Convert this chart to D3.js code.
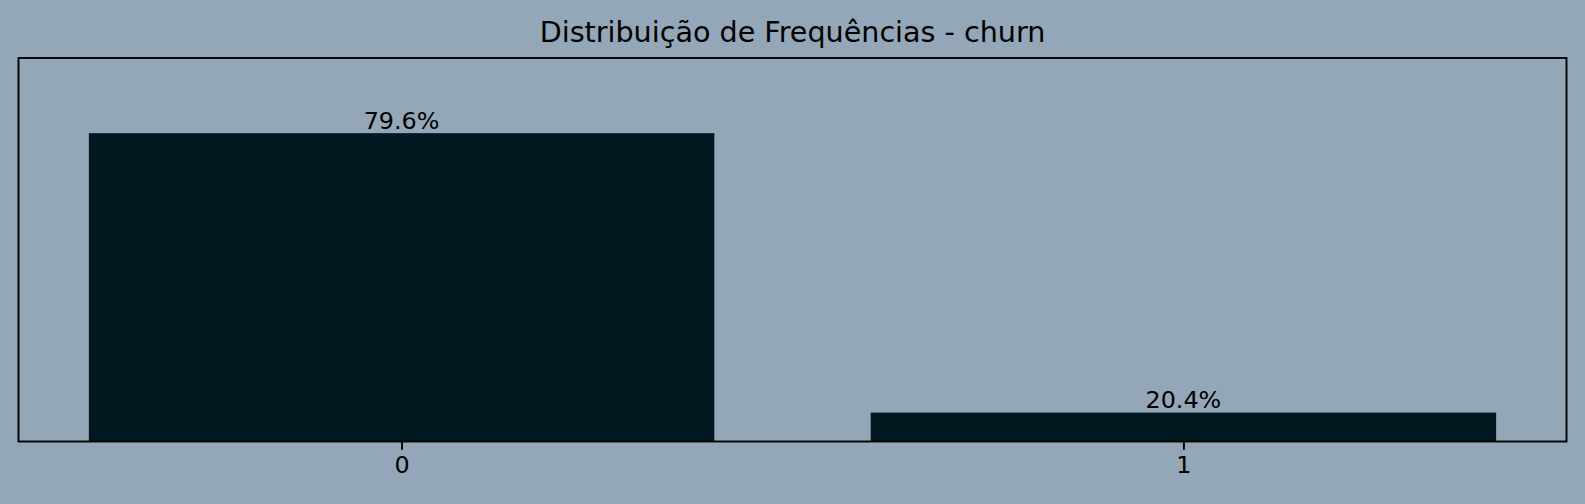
<!DOCTYPE html>
<html>
<head>
<meta charset="utf-8">
<script src="https://cdn.jsdelivr.net/npm/d3@7"></script>
<style>
  html, body { margin: 0; padding: 0; background: #93a7b8; }
  svg { display: block; }
  text { font-family: "DejaVu Sans", sans-serif; fill: #000; }
</style>
</head>
<body>
<svg id="chart" width="1585" height="504"></svg>
<script>
const categories = ["0", "1"];
const percentages = [79.6, 20.4];
const labels = ["79.6%", "20.4%"];
const titleText = "Distribuição de Frequências - churn";

const W = 1585, H = 504;
const bg = "#93a7b8", barColor = "#011a22";
const m = { left: 18.5, right: W - 1566.5, top: 58, bottom: H - 441.5 };
const iw = W - m.left - m.right, ih = H - m.top - m.bottom;
const fs = 23.85;

const svg = d3.select("#chart");
svg.append("rect").attr("width", W).attr("height", H).attr("fill", bg);

const g = svg.append("g").attr("transform", `translate(${m.left},${m.top})`);

// matplotlib-like x: bars at integer positions, width 0.8, margins 5%
const xIdx = d3.scaleLinear().domain([-0.49, categories.length - 1 + 0.49]).range([0, iw]);
const barW = xIdx(0.8) - xIdx(0);

const y = d3.scaleLinear()
  .domain([d3.min(percentages) * 0.7, d3.max(percentages) * 1.2])
  .range([ih, 0]);

g.selectAll("rect.bar")
  .data(percentages)
  .join("rect")
  .attr("class", "bar")
  .attr("x", (d, i) => xIdx(i) - barW / 2)
  .attr("width", barW)
  .attr("y", d => y(d))
  .attr("height", d => ih - y(d))
  .attr("fill", barColor);

g.selectAll("text.lbl")
  .data(percentages)
  .join("text")
  .attr("class", "lbl")
  .attr("x", (d, i) => xIdx(i))
  .attr("y", d => y(d) - 4.5)
  .attr("text-anchor", "middle")
  .attr("font-size", fs)
  .text((d, i) => labels[i]);

// x axis
const xAxis = d3.axisBottom(xIdx)
  .tickValues(categories.map((c, i) => i))
  .tickFormat(i => categories[i])
  .tickSize(8.3)
  .tickPadding(6);
const ax = g.append("g").attr("transform", `translate(0,${ih})`).call(xAxis);
ax.select(".domain").remove();
ax.selectAll(".tick line").attr("stroke", "#000").attr("stroke-width", 1.9);
ax.selectAll(".tick text").attr("font-size", fs).attr("fill", "#000")
  .attr("font-family", "DejaVu Sans");

// spines
g.append("rect").attr("x", 0).attr("y", 0).attr("width", iw).attr("height", ih)
  .attr("fill", "none").attr("stroke", "#000").attr("stroke-width", 1.9);

// title
svg.append("text")
  .attr("x", m.left + iw / 2)
  .attr("y", 41.7)
  .attr("text-anchor", "middle")
  .attr("font-size", 28.6)
  .text(titleText);
</script>
</body>
</html>
